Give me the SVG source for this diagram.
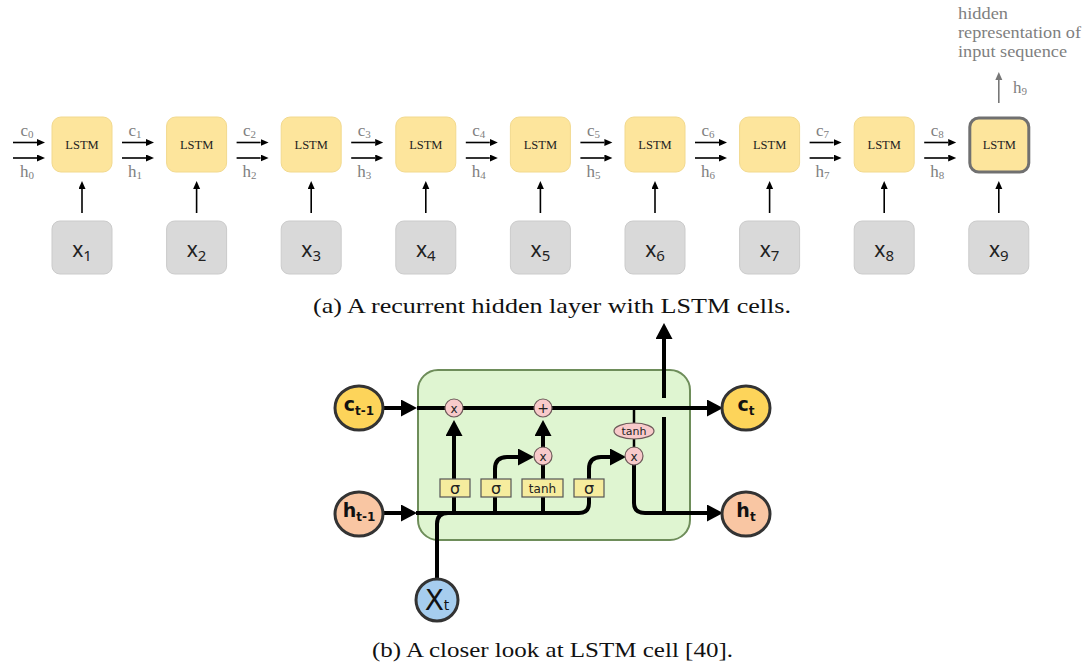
<svg xmlns="http://www.w3.org/2000/svg" width="1088" height="666" viewBox="0 0 1088 666">
<defs>
<style>
.lstm{fill:#fde59c;stroke:#f2d98e;stroke-width:1}
.xbox{fill:#d9d9d9;stroke:#cbcbcb;stroke-width:1}
.lt{font-family:"Liberation Serif",serif;font-size:12.5px;fill:#222;text-anchor:middle}
.xt{font-family:"Noto Sans","DejaVu Sans",sans-serif;font-size:21px;fill:#222;text-anchor:middle}
.lab{font-family:"Liberation Serif",serif;font-size:17px;fill:#808080;text-anchor:middle}
.thin{stroke:#000;stroke-width:1.6;fill:none}
.cap{font-family:"Liberation Serif",serif;font-size:22px;fill:#111;text-anchor:middle}
.bl{stroke:#000;stroke-width:4;fill:none;stroke-linejoin:round}
.gate{fill:#f6ec9e;stroke:#555;stroke-width:1.2}
.pk{fill:#f8caca;stroke:#6e5a5a;stroke-width:1.2}
.gt{font-family:"DejaVu Sans",sans-serif;fill:#222;text-anchor:middle}
.io{stroke:#333;stroke-width:3}
.iot{font-family:"DejaVu Sans",sans-serif;font-weight:bold;fill:#111;text-anchor:middle}
</style>
<marker id="as" markerUnits="userSpaceOnUse" markerWidth="9" markerHeight="8" refX="0" refY="3.5" orient="auto"><path d="M0,0 L8,3.5 L0,7 z" fill="#000"/></marker>
<marker id="ag" markerUnits="userSpaceOnUse" markerWidth="9" markerHeight="8" refX="0" refY="3.5" orient="auto"><path d="M0,0 L8,3.5 L0,7 z" fill="#777"/></marker>
<marker id="ab" markerUnits="userSpaceOnUse" markerWidth="17" markerHeight="18" refX="0" refY="8.5" orient="auto"><path d="M0,0 L16,8.5 L0,17 z" fill="#000"/></marker>
</defs>
<rect width="1088" height="666" fill="#fff"/>

<!-- top connectors -->
<g id="top-connectors">
<line class="thin" x1="13" y1="142.5" x2="37" y2="142.5" marker-end="url(#as)"/>
<line class="thin" x1="13" y1="158" x2="37" y2="158" marker-end="url(#as)"/>
<line class="thin" x1="122" y1="142.5" x2="146" y2="142.5" marker-end="url(#as)"/>
<line class="thin" x1="122" y1="158" x2="146" y2="158" marker-end="url(#as)"/>
<line class="thin" x1="236.6" y1="142.5" x2="260.6" y2="142.5" marker-end="url(#as)"/>
<line class="thin" x1="236.6" y1="158" x2="260.6" y2="158" marker-end="url(#as)"/>
<line class="thin" x1="351.2" y1="142.5" x2="375.2" y2="142.5" marker-end="url(#as)"/>
<line class="thin" x1="351.2" y1="158" x2="375.2" y2="158" marker-end="url(#as)"/>
<line class="thin" x1="465.8" y1="142.5" x2="489.8" y2="142.5" marker-end="url(#as)"/>
<line class="thin" x1="465.8" y1="158" x2="489.8" y2="158" marker-end="url(#as)"/>
<line class="thin" x1="580.4" y1="142.5" x2="604.4" y2="142.5" marker-end="url(#as)"/>
<line class="thin" x1="580.4" y1="158" x2="604.4" y2="158" marker-end="url(#as)"/>
<line class="thin" x1="695" y1="142.5" x2="719" y2="142.5" marker-end="url(#as)"/>
<line class="thin" x1="695" y1="158" x2="719" y2="158" marker-end="url(#as)"/>
<line class="thin" x1="809.6" y1="142.5" x2="833.6" y2="142.5" marker-end="url(#as)"/>
<line class="thin" x1="809.6" y1="158" x2="833.6" y2="158" marker-end="url(#as)"/>
<line class="thin" x1="924.2" y1="142.5" x2="948.2" y2="142.5" marker-end="url(#as)"/>
<line class="thin" x1="924.2" y1="158" x2="948.2" y2="158" marker-end="url(#as)"/>
<!-- x to LSTM -->
<line class="thin" x1="82" y1="213" x2="82" y2="189" marker-end="url(#as)"/>
<line class="thin" x1="196.6" y1="213" x2="196.6" y2="189" marker-end="url(#as)"/>
<line class="thin" x1="311.2" y1="213" x2="311.2" y2="189" marker-end="url(#as)"/>
<line class="thin" x1="425.8" y1="213" x2="425.8" y2="189" marker-end="url(#as)"/>
<line class="thin" x1="540.4" y1="213" x2="540.4" y2="189" marker-end="url(#as)"/>
<line class="thin" x1="655" y1="213" x2="655" y2="189" marker-end="url(#as)"/>
<line class="thin" x1="769.6" y1="213" x2="769.6" y2="189" marker-end="url(#as)"/>
<line class="thin" x1="884.2" y1="213" x2="884.2" y2="189" marker-end="url(#as)"/>
<line class="thin" x1="998.8" y1="213" x2="998.8" y2="189" marker-end="url(#as)"/>
<!-- output -->
<line x1="998.8" y1="103" x2="998.8" y2="80" stroke="#777" stroke-width="1.6" marker-end="url(#ag)"/>
<!-- labels -->
<text class="lab" x="27" y="136">c<tspan font-size="11" dy="2">0</tspan></text>
<text class="lab" x="27" y="177">h<tspan font-size="11" dy="2">0</tspan></text>
<text class="lab" x="135" y="136">c<tspan font-size="11" dy="2">1</tspan></text>
<text class="lab" x="135" y="177">h<tspan font-size="11" dy="2">1</tspan></text>
<text class="lab" x="249.6" y="136">c<tspan font-size="11" dy="2">2</tspan></text>
<text class="lab" x="249.6" y="177">h<tspan font-size="11" dy="2">2</tspan></text>
<text class="lab" x="364.2" y="136">c<tspan font-size="11" dy="2">3</tspan></text>
<text class="lab" x="364.2" y="177">h<tspan font-size="11" dy="2">3</tspan></text>
<text class="lab" x="478.8" y="136">c<tspan font-size="11" dy="2">4</tspan></text>
<text class="lab" x="478.8" y="177">h<tspan font-size="11" dy="2">4</tspan></text>
<text class="lab" x="593.4" y="136">c<tspan font-size="11" dy="2">5</tspan></text>
<text class="lab" x="593.4" y="177">h<tspan font-size="11" dy="2">5</tspan></text>
<text class="lab" x="708" y="136">c<tspan font-size="11" dy="2">6</tspan></text>
<text class="lab" x="708" y="177">h<tspan font-size="11" dy="2">6</tspan></text>
<text class="lab" x="822.6" y="136">c<tspan font-size="11" dy="2">7</tspan></text>
<text class="lab" x="822.6" y="177">h<tspan font-size="11" dy="2">7</tspan></text>
<text class="lab" x="937.2" y="136">c<tspan font-size="11" dy="2">8</tspan></text>
<text class="lab" x="937.2" y="177">h<tspan font-size="11" dy="2">8</tspan></text>
<text class="lab" x="1020" y="93">h<tspan font-size="11" dy="2">9</tspan></text>
</g>

<g id="hidden-label" font-family="Liberation Serif,serif" font-size="17.5" fill="#7f7f7f">
<text x="958" y="19" textLength="50" lengthAdjust="spacingAndGlyphs">hidden</text>
<text x="958" y="38" textLength="123" lengthAdjust="spacingAndGlyphs">representation of</text>
<text x="958" y="57" textLength="109" lengthAdjust="spacingAndGlyphs">input sequence</text>
</g>

<g id="lstm1"><rect class="lstm" x="52" y="117" width="60" height="55" rx="9"/><text class="lt" x="82" y="149">LSTM</text></g>
<g id="lstm2"><rect class="lstm" x="166.6" y="117" width="60" height="55" rx="9"/><text class="lt" x="196.6" y="149">LSTM</text></g>
<g id="lstm3"><rect class="lstm" x="281.2" y="117" width="60" height="55" rx="9"/><text class="lt" x="311.2" y="149">LSTM</text></g>
<g id="lstm4"><rect class="lstm" x="395.8" y="117" width="60" height="55" rx="9"/><text class="lt" x="425.8" y="149">LSTM</text></g>
<g id="lstm5"><rect class="lstm" x="510.4" y="117" width="60" height="55" rx="9"/><text class="lt" x="540.4" y="149">LSTM</text></g>
<g id="lstm6"><rect class="lstm" x="625" y="117" width="60" height="55" rx="9"/><text class="lt" x="655" y="149">LSTM</text></g>
<g id="lstm7"><rect class="lstm" x="739.6" y="117" width="60" height="55" rx="9"/><text class="lt" x="769.6" y="149">LSTM</text></g>
<g id="lstm8"><rect class="lstm" x="854.2" y="117" width="60" height="55" rx="9"/><text class="lt" x="884.2" y="149">LSTM</text></g>
<g id="lstm9"><rect x="969.8" y="118" width="59" height="54" rx="9" fill="#fde59c" stroke="#707070" stroke-width="3"/><text class="lt" x="999.3" y="149">LSTM</text></g>

<g id="x1"><rect class="xbox" x="52" y="221" width="60" height="53" rx="8"/><text class="xt" x="82" y="257">x<tspan font-size="15" dy="4">1</tspan></text></g>
<g id="x2"><rect class="xbox" x="166.6" y="221" width="60" height="53" rx="8"/><text class="xt" x="196.6" y="257">x<tspan font-size="15" dy="4">2</tspan></text></g>
<g id="x3"><rect class="xbox" x="281.2" y="221" width="60" height="53" rx="8"/><text class="xt" x="311.2" y="257">x<tspan font-size="15" dy="4">3</tspan></text></g>
<g id="x4"><rect class="xbox" x="395.8" y="221" width="60" height="53" rx="8"/><text class="xt" x="425.8" y="257">x<tspan font-size="15" dy="4">4</tspan></text></g>
<g id="x5"><rect class="xbox" x="510.4" y="221" width="60" height="53" rx="8"/><text class="xt" x="540.4" y="257">x<tspan font-size="15" dy="4">5</tspan></text></g>
<g id="x6"><rect class="xbox" x="625" y="221" width="60" height="53" rx="8"/><text class="xt" x="655" y="257">x<tspan font-size="15" dy="4">6</tspan></text></g>
<g id="x7"><rect class="xbox" x="739.6" y="221" width="60" height="53" rx="8"/><text class="xt" x="769.6" y="257">x<tspan font-size="15" dy="4">7</tspan></text></g>
<g id="x8"><rect class="xbox" x="854.2" y="221" width="60" height="53" rx="8"/><text class="xt" x="884.2" y="257">x<tspan font-size="15" dy="4">8</tspan></text></g>
<g id="x9"><rect class="xbox" x="968.8" y="221" width="60" height="53" rx="8"/><text class="xt" x="998.8" y="257">x<tspan font-size="15" dy="4">9</tspan></text></g>

<text class="cap" x="552" y="313" textLength="478" lengthAdjust="spacingAndGlyphs">(a) A recurrent hidden layer with LSTM cells.</text>

<!-- bottom cell -->
<g id="cell-box"><rect x="418" y="370" width="272" height="170" rx="20" fill="#dff5d1" stroke="#6e8d5a" stroke-width="2"/></g>

<g id="cell-connectors">
<path class="bl" d="M383 408 H401" marker-end="url(#ab)"/>
<path class="bl" d="M383 513 H401" marker-end="url(#ab)"/>
<path class="bl" d="M417 408 H707" marker-end="url(#ab)"/>
<path class="bl" d="M416 513 H579 Q589 513 589 503 V469 Q589 457 601 457 H610" marker-end="url(#ab)"/>
<path class="bl" d="M437 579 V524 Q437 513 448 513"/>
<path class="bl" d="M454 513 V436" marker-end="url(#ab)"/>
<path class="bl" d="M495 513 V469 Q495 457 507 457 H518" marker-end="url(#ab)"/>
<path class="bl" d="M543 513 V460"/>
<path class="bl" d="M543 450 V436" marker-end="url(#ab)"/>
<path d="M634 408 V450" stroke="#000" stroke-width="2.5" fill="none"/>
<path class="bl" d="M634 462 V503 Q634 513 645 513 H707" marker-end="url(#ab)"/>
<path class="bl" d="M664 513 V417"/>
<path class="bl" d="M664 398 V339" marker-end="url(#ab)"/>
</g>

<g id="gate-sigma1"><rect class="gate" x="440" y="479" width="30" height="18"/><text class="gt" x="455" y="494" font-size="16">σ</text></g>
<g id="gate-sigma2"><rect class="gate" x="481" y="479" width="30" height="18"/><text class="gt" x="496" y="494" font-size="16">σ</text></g>
<g id="gate-tanh"><rect class="gate" x="522" y="479" width="41" height="18"/><text class="gt" x="542.5" y="492.5" font-size="12">tanh</text></g>
<g id="gate-sigma4"><rect class="gate" x="574" y="479" width="30" height="18"/><text class="gt" x="589" y="494" font-size="16">σ</text></g>

<g id="op-mul1"><circle class="pk" cx="454" cy="408" r="9"/><text class="gt" x="454" y="412.5" font-size="12">x</text></g>
<g id="op-add"><circle class="pk" cx="543" cy="408" r="9"/><text class="gt" x="543" y="413" font-size="14">+</text></g>
<g id="op-mul2"><circle class="pk" cx="543" cy="456" r="9"/><text class="gt" x="543" y="460.5" font-size="12">x</text></g>
<g id="op-tanh"><ellipse class="pk" cx="634" cy="431" rx="20" ry="8"/><text class="gt" x="634" y="435" font-size="11">tanh</text></g>
<g id="op-mul3"><circle class="pk" cx="634" cy="456" r="9"/><text class="gt" x="634" y="460.5" font-size="12">x</text></g>

<g id="c-prev"><ellipse class="io" cx="359" cy="408" rx="24" ry="22" fill="#fdd45a"/><text class="iot" x="359" y="411" font-size="19">c<tspan font-size="12" dy="4">t-1</tspan></text></g>
<g id="h-prev"><ellipse class="io" cx="359" cy="514" rx="24" ry="22" fill="#f9c6a3"/><text class="iot" x="359" y="517" font-size="19">h<tspan font-size="12" dy="4">t-1</tspan></text></g>
<g id="c-t"><ellipse class="io" cx="746" cy="408" rx="24" ry="22" fill="#fdd45a"/><text class="iot" x="746" y="411" font-size="19">c<tspan font-size="12" dy="4">t</tspan></text></g>
<g id="h-t"><ellipse class="io" cx="746" cy="514" rx="24" ry="22" fill="#f9c6a3"/><text class="iot" x="746" y="517" font-size="19">h<tspan font-size="12" dy="4">t</tspan></text></g>
<g id="x-t"><circle class="io" cx="437" cy="600" r="21" fill="#a6cdee"/><text x="437" y="610" font-family="DejaVu Sans,sans-serif" font-size="28" fill="#111" text-anchor="middle">X<tspan font-size="14" dy="0">t</tspan></text></g>

<text class="cap" x="552.5" y="657" textLength="361" lengthAdjust="spacingAndGlyphs">(b) A closer look at LSTM cell [40].</text>
</svg>
